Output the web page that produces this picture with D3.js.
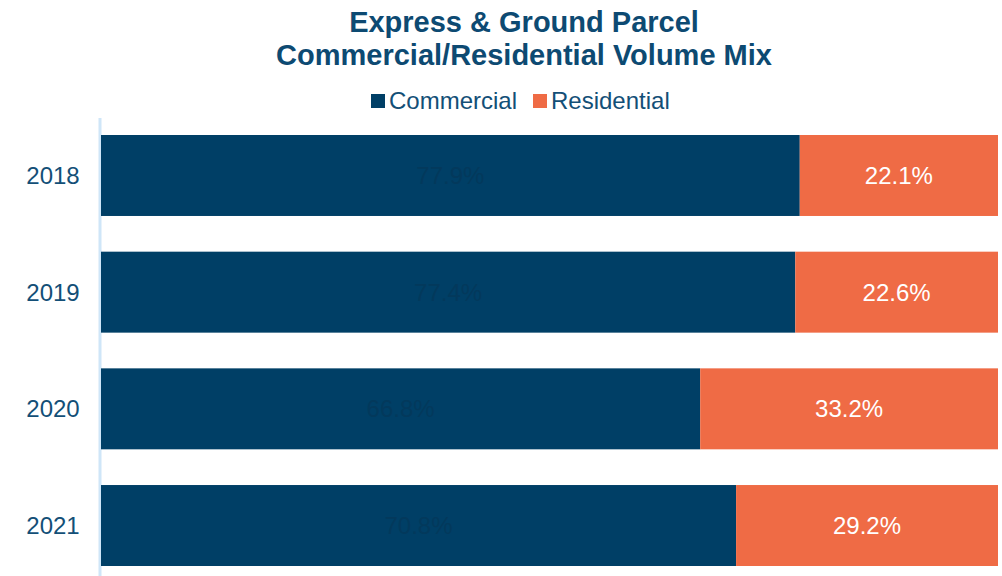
<!DOCTYPE html>
<html>
<head>
<meta charset="utf-8">
<script src="https://cdn.jsdelivr.net/npm/d3@7"></script>
<style>
  body { margin: 0; background: #fff; }
  text { font-family: "Liberation Sans", Arial, sans-serif; }
</style>
</head>
<body>
<div class="draw"></div>
<script>
const width = 1002
const height = 576

const years = ["2018", "2019", "2020", "2021"]
const commercial = [77.9, 77.4, 66.8, 70.8]
const residential = [22.1, 22.6, 33.2, 29.2]
const seriesNames = ["Commercial", "Residential"]
const colors = ["#003f66", "#ef6b45"]

let svg = d3.select("div.draw")
  .append("svg")
  .attr("width", width)
  .attr("height", height)

// title
svg.append("text")
  .attr("x", 524).attr("y", 32)
  .attr("text-anchor", "middle")
  .style("font-size", "29px").style("font-weight", "bold")
  .style("fill", "#0d4a72")
  .text("Express & Ground Parcel")
svg.append("text")
  .attr("x", 524).attr("y", 65)
  .attr("text-anchor", "middle")
  .style("font-size", "29px").style("font-weight", "bold")
  .style("fill", "#0d4a72")
  .text("Commercial/Residential Volume Mix")

// legend
let legendX = [371, 533]
seriesNames.forEach((name, i) => {
  let g = svg.append("g").attr("transform", "translate(" + legendX[i] + ",94)")
  g.append("rect").attr("width", 14).attr("height", 14).attr("fill", colors[i])
  g.append("text").attr("x", 18).attr("y", 15)
    .style("font-size", "24px").style("fill", "#134f77")
    .text(name)
})

let x = d3.scaleLinear().domain([0, 100]).range([101, 998])
let y = d3.scaleBand().domain(years).range([135, 566]).paddingInner(0.306).paddingOuter(0)

let rows = years.map((yr, i) => ({year: yr, c: commercial[i], r: residential[i]}))

// axis line
svg.append("line")
  .attr("x1", 100).attr("x2", 100)
  .attr("y1", 118).attr("y2", height)
  .attr("stroke", "#cfe6f8").attr("stroke-width", 3)

let bars = svg.selectAll("g.bar")
  .data(rows)
  .enter()
  .append("g")
  .attr("class", "bar")

bars.append("rect")
  .attr("x", x(0))
  .attr("y", d => y(d.year))
  .attr("width", d => x(d.c) - x(0))
  .attr("height", y.bandwidth())
  .attr("fill", colors[0])

bars.append("rect")
  .attr("x", d => x(d.c))
  .attr("y", d => y(d.year))
  .attr("width", d => x(d.c + d.r) - x(d.c))
  .attr("height", y.bandwidth())
  .attr("fill", colors[1])

bars.append("text")
  .attr("x", d => (x(0) + x(d.c)) / 2)
  .attr("y", d => y(d.year) + y.bandwidth() / 2)
  .attr("text-anchor", "middle")
  .attr("dominant-baseline", "central")
  .style("font-size", "24px")
  .style("fill", "#03395c")
  .text(d => d.c.toFixed(1) + "%")

bars.append("text")
  .attr("x", d => (x(d.c) + x(d.c + d.r)) / 2)
  .attr("y", d => y(d.year) + y.bandwidth() / 2)
  .attr("text-anchor", "middle")
  .attr("dominant-baseline", "central")
  .style("font-size", "24px")
  .style("fill", "#ffffff")
  .text(d => d.r.toFixed(1) + "%")

// year labels
svg.selectAll("text.year")
  .data(years)
  .enter()
  .append("text")
  .attr("class", "year")
  .attr("x", 53)
  .attr("y", d => y(d) + y.bandwidth() / 2)
  .attr("text-anchor", "middle")
  .attr("dominant-baseline", "central")
  .style("font-size", "24px")
  .style("fill", "#134f77")
  .text(d => d)
</script>
</body>
</html>
